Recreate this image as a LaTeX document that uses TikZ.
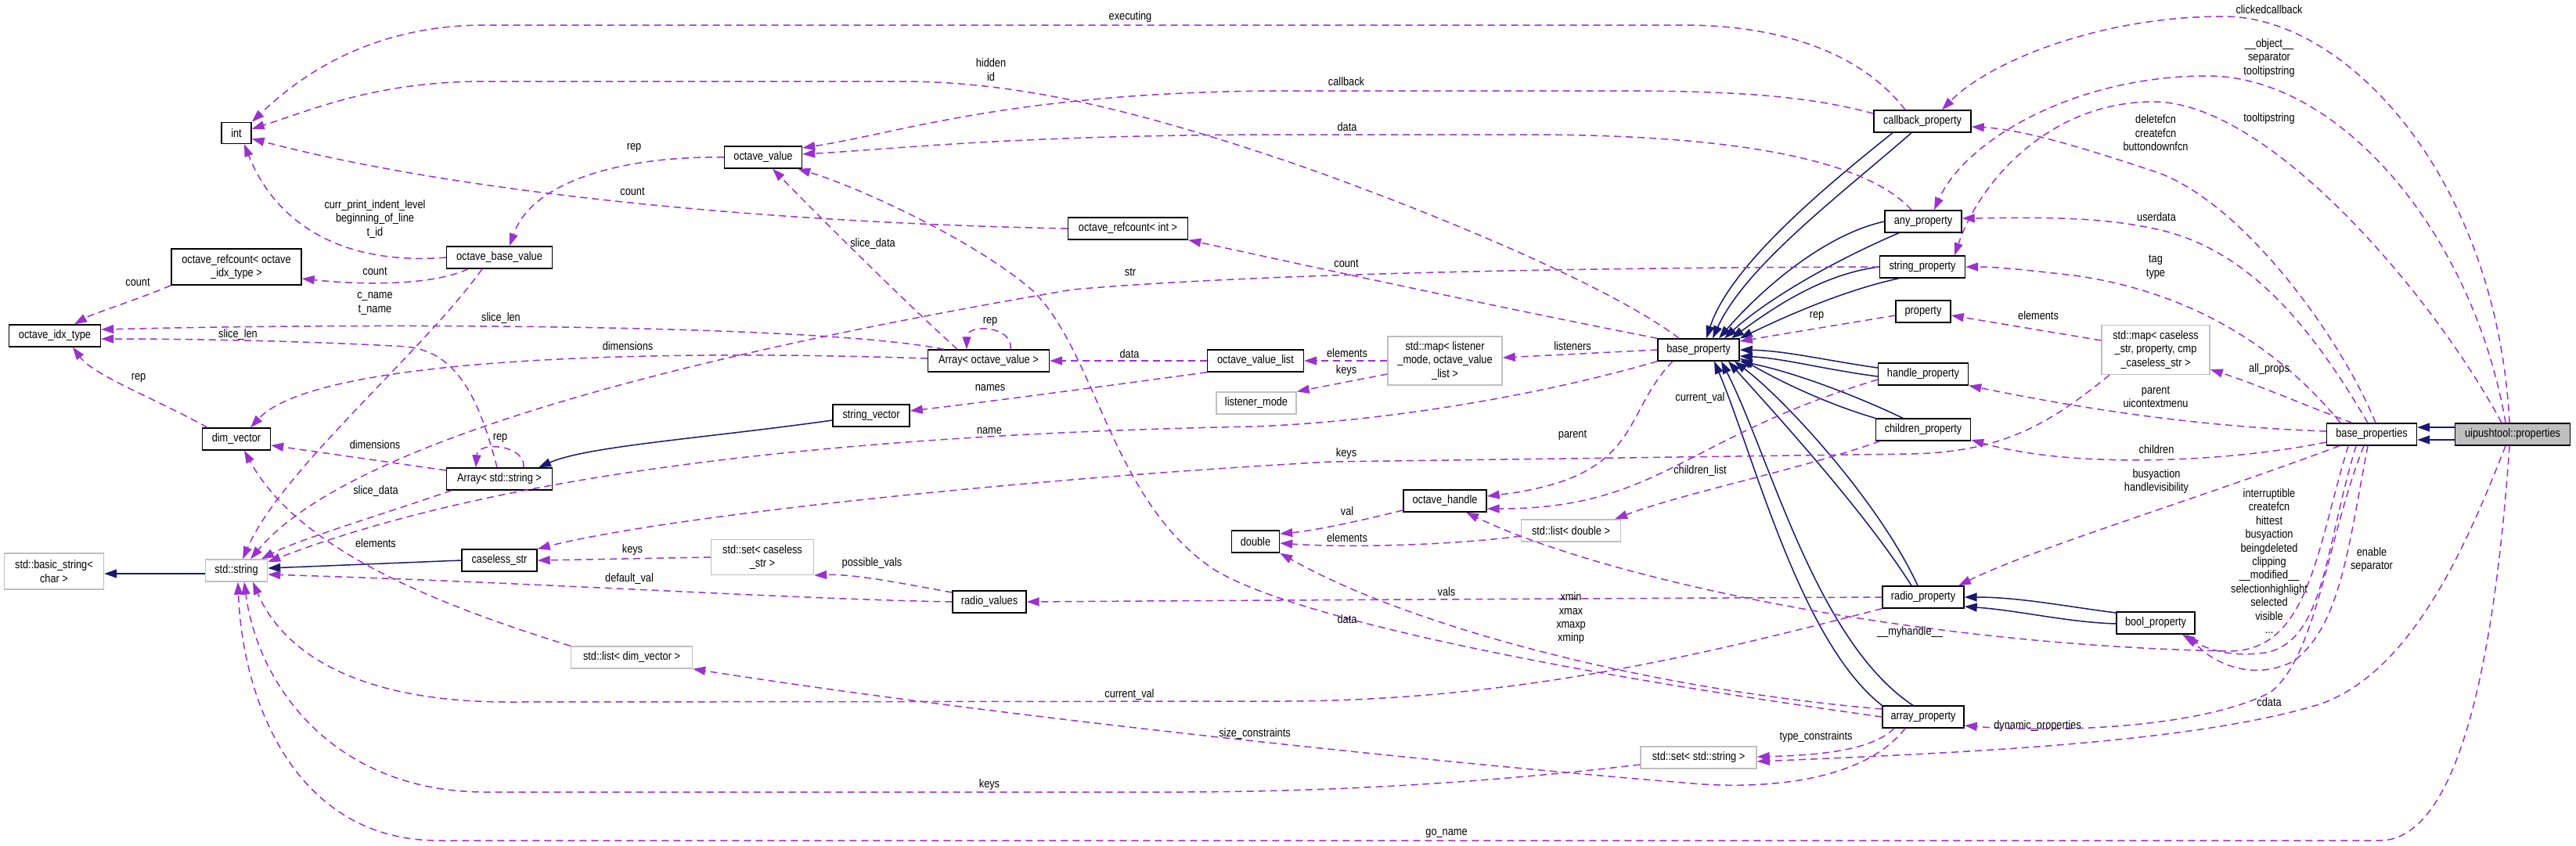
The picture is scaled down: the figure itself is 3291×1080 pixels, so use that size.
\documentclass[tikz,border=0pt]{standalone}
\usepackage{fontspec}
\setmainfont{Liberation Sans}[FakeStretch=0.85]
\usetikzlibrary{arrows.meta}
\definecolor{GraphPurple}{HTML}{9A32CD}
\definecolor{GraphNavy}{HTML}{191970}
\definecolor{GraphGray}{HTML}{BFBFBF}

\begin{document}
\begin{tikzpicture}[x=1pt,y=-1pt,font=\fontsize{15}{17.4}\selectfont,
  cls/.style={draw=black,line width=1.4pt,fill=white,inner sep=0pt,minimum height=28pt,align=center},
  ext/.style={cls,draw=GraphGray},
  use/.style={GraphPurple,line width=1.5pt,dash pattern=on 9pt off 6pt,-{Triangle[length=16pt,width=11pt]}},
  inh/.style={GraphNavy,line width=1.5pt,-{Triangle[length=16pt,width=11pt]}},
  lbl/.style={inner sep=0pt,align=center}]
  \useasboundingbox (0,0) rectangle (3291,1080);

  \node[cls,minimum width=38pt,minimum height=27pt] (int) at (302,170) {int};
  \node[cls,minimum width=99pt] (octval) at (975,201) {octave\_value};
  \node[cls,minimum width=124pt] (cbprop) at (2456,155) {callback\_property};
  \node[cls,minimum width=98pt] (anyprop) at (2457,283) {any\_property};
  \node[cls,minimum width=109pt] (strprop) at (2456,341) {string\_property};
  \node[cls,minimum width=70pt] (propty) at (2457,398) {property};
  \node[cls,minimum width=153pt] (rcint) at (1441,292) {octave\_refcount< int >};
  \node[cls,minimum width=135pt] (obv) at (638,329) {octave\_base\_value};
  \node[cls,minimum width=166pt,minimum height=46pt] (rcidx) at (302,341) {octave\_refcount< octave\\\_idx\_type >};
  \node[cls,minimum width=117pt] (idxtype) at (70,429) {octave\_idx\_type};
  \node[cls,minimum width=155pt] (arrov) at (1263,461) {Array< octave\_value >};
  \node[cls,minimum width=123pt] (ovlist) at (1604,461) {octave\_value\_list};
  \node[ext,minimum width=146pt,minimum height=62pt] (lmap) at (1846,461) {std::map< listener\\\_mode, octave\_value\\\_list >};
  \node[ext,minimum width=102pt] (lmode) at (1605,515) {listener\_mode};
  \node[cls,minimum width=104pt] (bprop) at (2170,447) {base\_property};
  \node[cls,minimum width=115pt] (hprop) at (2457,478) {handle\_property};
  \node[cls,minimum width=121pt] (chprop) at (2457,549) {children\_property};
  \node[ext,minimum width=138pt,minimum height=63pt] (pmap) at (2754,447) {std::map< caseless\\\_str, property, cmp\\\_caseless\_str >};
  \node[cls,minimum width=115pt] (bprops) at (3030,555) {base\_properties};
  \node[cls,fill=GraphGray,minimum width=147pt] (uipt) at (3210,555) {uipushtool::properties};
  \node[cls,minimum width=87pt] (dimvec) at (302,561) {dim\_vector};
  \node[cls,minimum width=98pt] (strvec) at (1113,531) {string\_vector};
  \node[cls,minimum width=135pt] (arrstr) at (638,612) {Array< std::string >};
  \node[ext,minimum width=127pt,minimum height=46pt] (bstr) at (69,730) {std::basic\_string<\\char >};
  \node[ext,minimum width=79pt] (stdstr) at (302,729) {std::string};
  \node[cls,minimum width=96pt] (cstr) at (638,716) {caseless\_str};
  \node[ext,minimum width=131pt,minimum height=45pt] (cset) at (974,712) {std::set< caseless\\\_str >};
  \node[cls,minimum width=94pt] (rvals) at (1264,769) {radio\_values};
  \node[cls,minimum width=61pt] (dbl) at (1604,692) {double};
  \node[cls,minimum width=106pt] (ohandle) at (1846,640) {octave\_handle};
  \node[ext,minimum width=127pt] (dlist) at (2007,678) {std::list< double >};
  \node[cls,minimum width=104pt] (rprop) at (2457,763) {radio\_property};
  \node[cls,minimum width=100pt] (boolp) at (2754,796) {bool\_property};
  \node[ext,minimum width=155pt] (dvlist) at (807,840) {std::list< dim\_vector >};
  \node[cls,minimum width=104pt] (aprop) at (2457,916) {array\_property};
  \node[ext,minimum width=148pt] (sset) at (2170,968) {std::set< std::string >};

  \draw[inh] ([yshift=9pt]uipt.west) -- ([yshift=9pt]bprops.east);
  \draw[inh] ([yshift=-7pt]uipt.west) -- ([yshift=-7pt]bprops.east);
  \draw[inh] ([xshift=-38pt]cbprop.south) .. controls (2330,240) and (2210,340) .. ([xshift=10pt]bprop.north);
  \draw[inh] ([xshift=-14pt]cbprop.south) .. controls (2350,250) and (2230,340) .. ([xshift=18pt]bprop.north);
  \draw[inh] (anyprop.west) .. controls (2330,300) and (2250,370) .. ([xshift=26pt]bprop.north);
  \draw[inh] ([xshift=-31pt]anyprop.south) .. controls (2350,330) and (2260,380) .. ([xshift=33pt]bprop.north);
  \draw[inh] (strprop.west) .. controls (2330,350) and (2270,390) .. ([xshift=42pt]bprop.north);
  \draw[inh] ([xshift=-30pt]strprop.south) .. controls (2360,370) and (2290,400) .. (bprop.north east);
  \draw[inh] ([yshift=8pt]hprop.west) .. controls (2330,460) and (2280,448) .. (bprop.east);
  \draw[inh] ([yshift=-3pt]hprop.west) .. controls (2330,472) and (2280,458) .. ([yshift=-8pt]bprop.east);
  \draw[inh] (chprop.north west) .. controls (2330,515) and (2270,485) .. ([yshift=4pt]bprop.south east);
  \draw[inh] ([xshift=-26pt]chprop.north) .. controls (2370,505) and (2290,475) .. (bprop.south east);
  \draw[inh] ([xshift=-15pt]rprop.north) .. controls (2380,650) and (2260,520) .. ([xshift=38pt]bprop.south);
  \draw[inh] ([xshift=-7pt]rprop.north) .. controls (2400,640) and (2280,510) .. ([xshift=46pt]bprop.south);
  \draw[inh] (aprop.north west) .. controls (2300,820) and (2240,580) .. ([xshift=20pt]bprop.south);
  \draw[inh] ([xshift=-13pt]aprop.north) .. controls (2320,820) and (2260,580) .. ([xshift=29pt]bprop.south);
  \draw[inh] ([yshift=13pt]boolp.west) .. controls (2640,775) and (2580,763) .. (rprop.east);
  \draw[inh] ([yshift=-1pt]boolp.west) .. controls (2640,795) and (2580,780) .. ([yshift=-12pt]rprop.east);
  \draw[inh] ([yshift=-6pt]strvec.west) .. controls (900,560) and (750,570) .. ([xshift=50pt]arrstr.north);
  \draw[inh] ([yshift=-4pt]stdstr.west) -- ([yshift=-3pt]bstr.east);
  \draw[inh] (cstr.west) -- ([yshift=3pt]stdstr.east);

  \draw[use] ([xshift=-22pt]cbprop.north) .. controls (2380,70) and (2280,32) .. (2150,32) -- (620,32) .. controls (460,32) and (370,110) .. (int.north east);
  \draw[use] ([xshift=-25pt]bprop.north) .. controls (2050,360) and (1800,260) .. (1650,208) .. controls (1450,140) and (1300,104) .. (1150,104) -- (620,104) .. controls (480,104) and (400,140) .. (int.15);
  \draw[use] ([yshift=10pt]cbprop.west) .. controls (2300,120) and (2200,116) .. (2050,116) -- (1650,116) .. controls (1300,116) and (1150,170) .. ([yshift=12pt]octval.east);
  \draw[use] ([xshift=-15pt]anyprop.north) .. controls (2380,200) and (2200,172) .. (1950,172) -- (1650,172) .. controls (1300,172) and (1150,190) .. ([yshift=4pt]octval.east);
  \draw[use] (bprop.north west) .. controls (1900,390) and (1650,335) .. (rcint.south east);
  \draw[use] (rcint.west) .. controls (1000,285) and (600,250) .. (int.-20);
  \draw[use] (octval.west) .. controls (800,199) and (680,230) .. ([xshift=13pt]obv.north);
  \draw[use] (obv.west) .. controls (430,340) and (350,280) .. ([xshift=10pt]int.south);
  \draw[use] ([xshift=-40pt]obv.south) .. controls (560,362) and (480,366) .. ([yshift=-15pt]rcidx.east);
  \draw[use] (rcidx.south west) .. controls (170,385) and (120,400) .. ([xshift=25pt]idxtype.north);
  \draw[use] ([xshift=-57pt]arrov.north) .. controls (1050,415) and (500,412) .. ([yshift=8pt]idxtype.east);
  \draw[use] ([xshift=-3pt]arrstr.north) .. controls (610,500) and (580,450) .. (520,443) .. controls (400,436) and (250,433) .. ([yshift=-4pt]idxtype.east);
  \draw[use] ([yshift=3pt]arrov.west) .. controls (800,445) and (400,460) .. ([xshift=18pt]dimvec.north);
  \draw[use] ([yshift=11pt]arrstr.west) -- ([yshift=-8pt]dimvec.east);
  \draw[use] ([xshift=-37pt]dimvec.north) .. controls (200,510) and (120,480) .. ([xshift=23pt]idxtype.south);
  \draw[use] ([xshift=31pt]arrstr.north) .. controls (672,568) and (610,563) .. ([xshift=-30pt]arrstr.north);
  \draw[use] ([xshift=28pt]arrov.north) .. controls (1295,416) and (1235,413) .. ([xshift=-28pt]arrov.north);
  \draw[use] ([xshift=-40pt]arrov.north) .. controls (1150,380) and (1050,280) .. ([xshift=12pt]octval.south);
  \draw[use] (ovlist.west) -- (arrov.east);
  \draw[use] (ovlist.south west) .. controls (1400,495) and (1250,515) .. ([yshift=6pt]strvec.east);
  \draw[use] (lmap.west) -- (ovlist.east);
  \draw[use] ([yshift=-17pt]lmap.west) -- (lmode.north east);
  \draw[use] (bprop.west) -- ([yshift=4pt]lmap.east);
  \draw[use] ([yshift=-5pt]propty.west) -- ([yshift=11pt]bprop.east);
  \draw[use] ([xshift=-33pt]bprop.south) .. controls (2070,530) and (2100,610) .. ([yshift=6pt]ohandle.east);
  \draw[use] ([yshift=-7pt]hprop.west) .. controls (2150,560) and (2120,650) .. ([yshift=-10pt]ohandle.east);
  \draw[use] ([xshift=-55pt]chprop.south) .. controls (2300,600) and (2150,630) .. ([xshift=56pt]dlist.north);
  \draw[use] ([yshift=-12pt]ohandle.west) .. controls (1740,665) and (1680,678) .. ([yshift=10pt]dbl.east);
  \draw[use] ([yshift=-7pt]dlist.west) .. controls (1850,697) and (1720,700) .. ([yshift=-2pt]dbl.east);
  \draw[use] ([xshift=-59pt]pmap.south) .. controls (2620,540) and (2560,578) .. (2440,580) -- (1700,590) .. controls (1300,612) and (850,660) .. (cstr.north east);
  \draw[use] ([yshift=12pt]pmap.west) -- ([yshift=-5pt]propty.east);
  \draw[use] ([xshift=-25pt]bprops.north) .. controls (2950,520) and (2880,490) .. ([yshift=-25pt]pmap.east);
  \draw[use] ([yshift=4pt]bprops.west) .. controls (2800,545) and (2650,520) .. (hprop.south east);
  \draw[use] ([yshift=-10pt]bprops.west) .. controls (2850,590) and (2650,600) .. ([yshift=-13pt]chprop.east);
  \draw[use] ([xshift=-41pt]bprops.south) .. controls (2800,640) and (2600,700) .. ([xshift=45pt]rprop.north);
  \draw[use] ([xshift=-4pt]uipt.north) .. controls (3190,230) and (3000,21) .. (2841,21) .. controls (2680,21) and (2540,80) .. ([xshift=25pt]cbprop.north);
  \draw[use] ([xshift=-9pt]uipt.north) .. controls (3160,300) and (2990,97) .. (2820,97) .. controls (2650,97) and (2510,180) .. ([xshift=14pt]anyprop.north);
  \draw[use] ([xshift=-14pt]uipt.north) .. controls (3110,380) and (2900,130) .. (2751,130) .. controls (2620,130) and (2530,230) .. ([xshift=41pt]strprop.north);
  \draw[use] ([xshift=5pt]bprops.north) .. controls (2990,430) and (2860,250) .. (2746,217) .. controls (2650,185) and (2580,165) .. ([yshift=-7pt]cbprop.east);
  \draw[use] ([xshift=-5pt]bprops.north) .. controls (2960,430) and (2880,320) .. (2756,293) .. controls (2680,276) and (2600,278) .. ([yshift=4pt]anyprop.east);
  \draw[use] ([xshift=-40pt]bprops.north) .. controls (2900,430) and (2780,370) .. (2650,352) .. controls (2590,345) and (2550,341) .. (strprop.east);
  \draw[use] ([xshift=-20pt]bprops.south) .. controls (2970,700) and (2970,820) .. (2894,834) .. controls (2850,840) and (2820,830) .. ([xshift=34pt]boolp.south);
  \draw[use] ([xshift=-5pt]bprops.south) .. controls (3000,700) and (2990,800) .. (2930,845) .. controls (2880,870) and (2830,850) .. ([xshift=40pt]boolp.south);
  \draw[use] ([xshift=-10pt]bprops.south) .. controls (2975,680) and (2960,840) .. (2900,885) .. controls (2800,935) and (2600,935) .. ([yshift=-11pt]aprop.east);
  \draw[use] ([xshift=-30pt]bprops.south) .. controls (2960,700) and (2950,830) .. (2850,832) .. controls (2450,825) and (2050,740) .. ([xshift=27pt]ohandle.south);
  \draw[use] ([xshift=-9pt]uipt.south) .. controls (3150,700) and (3080,860) .. (2963,900) .. controls (2800,950) and (2500,962) .. ([yshift=-5pt]sset.east);
  \draw[use] ([xshift=-37pt]aprop.south) .. controls (2390,960) and (2320,965) .. ([yshift=1pt]sset.east);
  \draw[use] ([xshift=-23pt]aprop.south) .. controls (2380,1000) and (2250,1010) .. (2150,1000) .. controls (1900,980) and (1300,920) .. (dvlist.south east);
  \draw[use] ([yshift=10pt]aprop.west) .. controls (2100,880) and (1800,800) .. (dbl.south east);
  \draw[use] (aprop.west) .. controls (2000,860) and (1650,790) .. (1550,727) .. controls (1420,640) and (1400,450) .. (1320,372) .. controls (1250,310) and (1100,240) .. ([xshift=-6pt]octval.south east);
  \draw[use] (rprop.west) .. controls (2000,765) and (1600,767) .. (rvals.east);
  \draw[use] ([yshift=12pt]rvals.west) .. controls (1150,745) and (1090,733) .. (cset.south east);
  \draw[use] (rvals.west) .. controls (1000,765) and (700,745) .. ([yshift=-5pt]stdstr.east);
  \draw[use] (cset.west) -- (cstr.east);
  \draw[use] ([xshift=-22pt]obv.south) .. controls (540,450) and (360,600) .. ([xshift=8pt]stdstr.north);
  \draw[use] (strprop.west) .. controls (2000,342) and (1600,350) .. (1370,370) .. controls (900,450) and (450,560) .. ([xshift=18pt]stdstr.north);
  \draw[use] ([xshift=-61pt]arrstr.south) .. controls (480,660) and (380,690) .. ([xshift=32pt]stdstr.north);
  \draw[use] (bprop.south west) .. controls (1950,510) and (1750,540) .. (1600,545) .. controls (1100,555) and (650,600) .. ([yshift=11pt]stdstr.east);
  \draw[use] (dvlist.north west) .. controls (550,770) and (380,700) .. ([xshift=10pt]dimvec.south);
  \draw[use] (rprop.south west) .. controls (2200,830) and (1950,895) .. (1640,896) -- (650,897) .. controls (450,897) and (360,830) .. ([xshift=21pt]stdstr.south);
  \draw[use] ([yshift=-9pt]sset.west) .. controls (1900,1000) and (1700,1012) .. (1500,1012) -- (620,1012) .. controls (430,1012) and (330,880) .. ([xshift=10pt]stdstr.south);
  \draw[use] ([xshift=-4pt]uipt.south) .. controls (3190,800) and (3150,1074) .. (3040,1074) -- (560,1074) .. controls (380,1074) and (310,900) .. ([xshift=2pt]stdstr.south);

  \node[lbl] (l-executing) at (1444,22) {executing};
  \node[lbl] (l-hidden) at (1266,89) {hidden\\id};
  \node[lbl] (l-callback) at (1720,104) {callback};
  \node[lbl] (l-anydata) at (1721,162) {data};
  \node[lbl] (l-clicked) at (2899,12) {clickedcallback};
  \node[lbl] (l-object) at (2899,74) {\_\_object\_\_\\separator\\tooltipstring};
  \node[lbl] (l-delete) at (2754,170) {deletefcn\\createfcn\\buttondownfcn};
  \node[lbl] (l-tooltip) at (2899,152) {tooltipstring};
  \node[lbl] (l-userdata) at (2755,277) {userdata};
  \node[lbl] (l-tag) at (2754,341) {tag\\type};
  \node[lbl] (l-obvrep) at (810,189) {rep};
  \node[lbl] (l-intcount) at (808,245) {count};
  \node[lbl] (l-indent) at (479,280) {curr\_print\_indent\_level\\beginning\_of\_line\\t\_id};
  \node[lbl] (l-obvcount) at (479,347) {count};
  \node[lbl] (l-idxcount) at (176,361) {count};
  \node[lbl] (l-ovslice) at (1115,312) {slice\_data};
  \node[lbl] (l-str) at (1444,348) {str};
  \node[lbl] (l-bpcount) at (1720,337) {count};
  \node[lbl] (l-cname) at (479,388) {c\_name\\t\_name};
  \node[lbl] (l-ovlen) at (640,407) {slice\_len};
  \node[lbl] (l-strlen) at (304,428) {slice\_len};
  \node[lbl] (l-ovdims) at (802,442) {dimensions};
  \node[lbl] (l-dimrep) at (177,483) {rep};
  \node[lbl] (l-strdims) at (479,568) {dimensions};
  \node[lbl] (l-strrep) at (639,560) {rep};
  \node[lbl] (l-strslice) at (480,628) {slice\_data};
  \node[lbl] (l-dvelems) at (480,694) {elements};
  \node[lbl] (l-csetkeys) at (808,703) {keys};
  \node[lbl] (l-default) at (804,740) {default\_val};
  \node[lbl] (l-ovrep) at (1265,411) {rep};
  \node[lbl] (l-listdata) at (1443,452) {data};
  \node[lbl] (l-names) at (1265,496) {names};
  \node[lbl] (l-name) at (1264,551) {name};
  \node[lbl] (l-possible) at (1114,720) {possible\_vals};
  \node[lbl] (l-lmelems) at (1721,451) {elements};
  \node[lbl] (l-lmkeys) at (1720,474) {keys};
  \node[lbl] (l-listeners) at (2009,442) {listeners};
  \node[lbl] (l-bprep) at (2321,404) {rep};
  \node[lbl] (l-hcurrent) at (2172,509) {current\_val};
  \node[lbl] (l-parent) at (2009,556) {parent};
  \node[lbl] (l-pmkeys) at (1720,580) {keys};
  \node[lbl] (l-childlist) at (2172,602) {children\_list};
  \node[lbl] (l-val) at (1721,653) {val};
  \node[lbl] (l-dlelems) at (1721,687) {elements};
  \node[lbl] (l-pmelems) at (2604,403) {elements};
  \node[lbl] (l-allprops) at (2899,472) {all\_props};
  \node[lbl] (l-uicontext) at (2754,507) {parent\\uicontextmenu};
  \node[lbl] (l-children) at (2755,574) {children};
  \node[lbl] (l-busy) at (2755,615) {busyaction\\handlevisibility};
  \node[lbl] (l-interrupt) at (2899,717) {interruptible\\createfcn\\hittest\\busyaction\\beingdeleted\\clipping\\\_\_modified\_\_\\selectionhighlight\\selected\\visible\\...};
  \node[lbl] (l-enable) at (3030,715) {enable\\separator};
  \node[lbl] (l-vals) at (1848,756) {vals};
  \node[lbl] (l-xmin) at (2007,790) {xmin\\xmax\\xmaxp\\xminp};
  \node[lbl] (l-apdata) at (1721,791) {data};
  \node[lbl] (l-myhandle) at (2440,808) {\_\_myhandle\_\_};
  \node[lbl] (l-cdata) at (2899,897) {cdata};
  \node[lbl] (l-dynamic) at (2603,928) {dynamic\_properties};
  \node[lbl] (l-typecons) at (2320,942) {type\_constraints};
  \node[lbl] (l-sizecons) at (1603,938) {size\_constraints};
  \node[lbl] (l-rcurrent) at (1443,888) {current\_val};
  \node[lbl] (l-ssetkeys) at (1264,1003) {keys};
  \node[lbl] (l-goname) at (1848,1065) {go\_name};
\end{tikzpicture}
\end{document}
